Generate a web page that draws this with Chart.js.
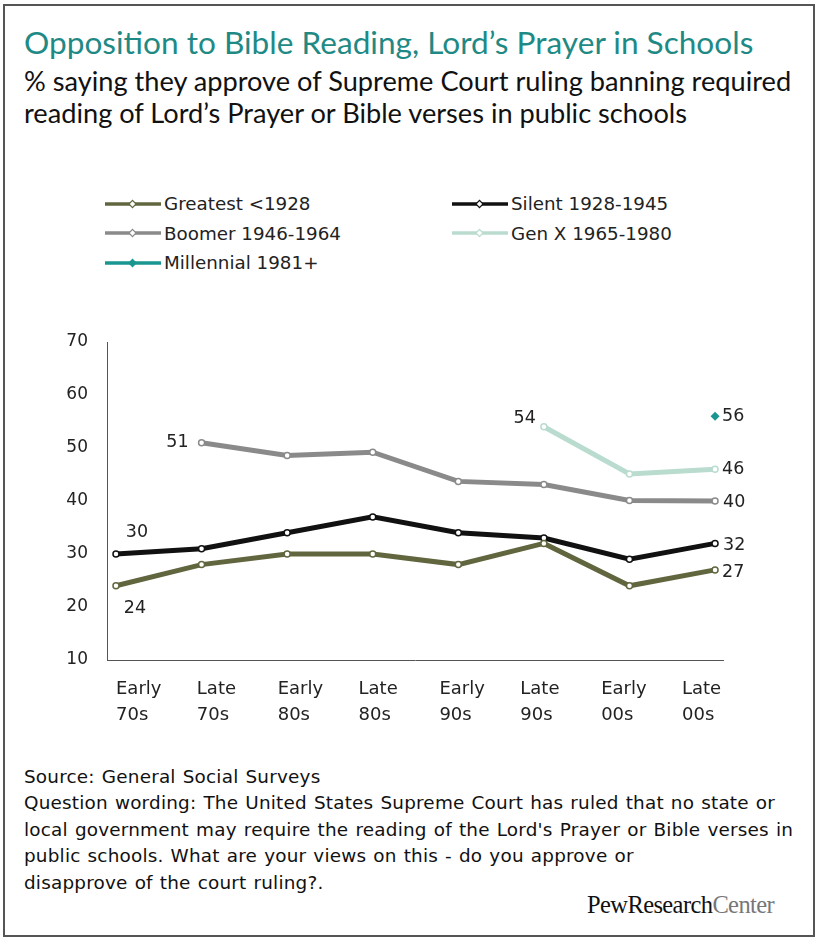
<!DOCTYPE html>
<html>
<head>
<meta charset="utf-8">
<script src="https://cdn.jsdelivr.net/npm/chart.js@4.4.1/dist/chart.umd.min.js"></script>
<style>
  body { margin: 0; background: #fff; width: 817px; height: 939px; position: relative; overflow: hidden; font-family: "DejaVu Sans", sans-serif; color: #222; }
  .frame { position: absolute; left: 3px; top: 4px; width: 812px; height: 933px; border: 2px solid #555; box-sizing: border-box; }
  .title { position: absolute; left: 24px; top: 23px; margin: 0; font: 400 31.6px Lato, sans-serif; color: #1f8a85; white-space: nowrap; }
  .subtitle { position: absolute; left: 24px; top: 65px; margin: 0; font: 400 27.2px/32px Lato, sans-serif; color: #111; white-space: nowrap; }
  #legend { position: absolute; left: 105px; top: 189px; display: grid; grid-template-columns: 347px 300px; grid-auto-rows: 29.5px; font-size: 18.3px; color: #222; }
  #legend .item { display: flex; align-items: center; white-space: nowrap; }
  #legend svg { margin-right: 3px; }
  #chart { position: absolute; left: 0; top: 300px; }
  .notes { position: absolute; left: 24px; top: 764px; margin: 0; font-size: 18.4px; line-height: 26.4px; letter-spacing: 0.2px; word-spacing: 1px; color: #111; white-space: nowrap; }
  .logo { position: absolute; left: 587px; top: 891px; font: 400 24.5px "Liberation Serif", serif; letter-spacing: -0.6px; color: #111; }
  .logo span { color: #777; }
</style>
</head>
<body>
<div class="frame"></div>
<div class="title">Opposition to Bible Reading, Lord’s Prayer in Schools</div>
<div class="subtitle">% saying they approve of Supreme Court ruling banning required<br>reading of Lord’s Prayer or Bible verses in public schools</div>
<div id="legend"></div>
<canvas id="chart" width="817" height="440"></canvas>
<div class="notes">Source: General Social Surveys<br>Question wording: The United States Supreme Court has ruled that no state or<br>local government may require the reading of the Lord's Prayer or Bible verses in<br>public schools. What are your views on this - do you approve or<br>disapprove of the court ruling?.</div>
<div class="logo">PewResearch<span>Center</span></div>
<script>
const categories = [
  ['Early', '70s'], ['Late', '70s'], ['Early', '80s'], ['Late', '80s'],
  ['Early', '90s'], ['Late', '90s'], ['Early', '00s'], ['Late', '00s']
];
const seriesNames = ['Greatest <1928', 'Silent 1928-1945', 'Boomer 1946-1964', 'Gen X 1965-1980', 'Millennial 1981+'];
const greatest = [24, 28, 30, 30, 28, 32, 24, 27];
const silent = [30, 31, 34, 37, 34, 33, 29, 32];
const boomer = [null, 51, 48.6, 49.2, 43.7, 43.1, 40.1, 40];
const genX = [null, null, null, null, null, 54, 45.1, 46];
const millennial = [null, null, null, null, null, null, null, 56];
const yTicks = [10, 20, 30, 40, 50, 60, 70];

const colors = ['#62663f', '#111111', '#8a8a8a', '#b9dccf', '#1a9690'];
const allSeries = [greatest, silent, boomer, genX, millennial];

// which points get a number written next to them
const valueLabels = [
  { series: 1, index: 0, align: 'center', dx: 21, dy: -22 },
  { series: 0, index: 0, align: 'center', dx: 19, dy: 23 },
  { series: 2, index: 1, align: 'right', dx: -13, dy: 0 },
  { series: 3, index: 5, align: 'right', dx: -8, dy: -8 },
  { series: 4, index: 7, align: 'left', dx: 7, dy: 0 },
  { series: 3, index: 7, align: 'left', dx: 7, dy: 0 },
  { series: 2, index: 7, align: 'left', dx: 8, dy: 1 },
  { series: 1, index: 7, align: 'left', dx: 8, dy: 2 },
  { series: 0, index: 7, align: 'left', dx: 7, dy: 3 }
];

const valueLabelPlugin = {
  id: 'valueLabels',
  afterDatasetsDraw(chart) {
    const ctx = chart.ctx;
    ctx.save();
    ctx.font = '17.5px "DejaVu Sans"';
    ctx.fillStyle = '#222';
    ctx.textBaseline = 'middle';
    valueLabels.forEach(l => {
      const pt = chart.getDatasetMeta(l.series).data[l.index];
      const v = chart.data.datasets[l.series].data[l.index].y;
      ctx.textAlign = l.align;
      ctx.fillText(String(Math.round(v)), pt.x + l.dx, pt.y + l.dy);
    });
    ctx.restore();
  }
};

const datasets = allSeries.map((values, s) => {
  const isMil = s === 4;
  return {
    label: seriesNames[s],
    data: values.map((v, i) => ({ x: i, y: v })),
    borderColor: colors[s],
    borderWidth: 5,
    tension: 0,
    pointStyle: isMil ? 'rectRot' : 'circle',
    pointRadius: isMil ? 4.5 : 3,
    pointBackgroundColor: isMil ? colors[s] : '#fff',
    pointBorderColor: colors[s],
    pointBorderWidth: isMil ? 0 : 1.5,
    clip: false
  };
});

const chart = new Chart(document.getElementById('chart'), {
  type: 'line',
  data: { datasets: datasets },
  options: {
    responsive: false,
    animation: false,
    layout: { padding: { left: 0, top: 42, right: 94, bottom: 0 } },
    plugins: { legend: { display: false }, tooltip: { enabled: false } },
    scales: {
      x: {
        type: 'linear',
        min: -0.105,
        max: 7.093,
        weight: 0,
        grid: { display: false, drawTicks: false },
        border: { display: true, color: '#555', width: 1 },
        ticks: { display: false },
        afterFit: (scale) => { scale.height = 0; }
      },
      xLabels: {
        type: 'linear',
        position: 'bottom',
        min: -0.111,
        max: 7.507,
        weight: 1,
        grid: { display: false, drawTicks: false },
        border: { display: false },
        afterBuildTicks: (scale) => { scale.ticks = categories.map((c, i) => ({ value: i })); },
        ticks: {
          autoSkip: false,
          maxRotation: 0,
          align: 'start',
          padding: 16,
          color: '#222',
          font: { family: 'DejaVu Sans', size: 18, lineHeight: 1.45 },
          callback: (value) => categories[value]
        },
        afterFit: (scale) => { scale.height = 80; }
      },
      y: {
        min: 10,
        max: 70,
        grid: { display: false, drawTicks: false },
        border: { display: true, color: '#555', width: 1 },
        afterBuildTicks: (scale) => { scale.ticks = yTicks.map(v => ({ value: v })); },
        ticks: {
          padding: 19,
          color: '#222',
          font: { family: 'DejaVu Sans', size: 17 }
        },
        afterFit: (scale) => { scale.width = 107; }
      }
    }
  },
  plugins: [valueLabelPlugin]
});

// legend built from the datasets
const legendEl = document.getElementById('legend');
chart.data.datasets.forEach((ds) => {
  const item = document.createElement('div');
  item.className = 'item';
  const filled = ds.pointStyle === 'rectRot';
  item.innerHTML =
    '<svg width="56" height="12"><line x1="0" y1="6" x2="56" y2="6" stroke="' + ds.borderColor + '" stroke-width="3.5"/>' +
    '<rect x="25" y="3.5" width="5" height="5" transform="rotate(45 27.5 6)" fill="' + (filled ? ds.borderColor : '#fff') +
    '" stroke="' + ds.borderColor + '" stroke-width="1.2"/></svg>' +
    '<span>' + ds.label.replace('<', '&lt;') + '</span>';
  legendEl.appendChild(item);
});
</script>
</body>
</html>
